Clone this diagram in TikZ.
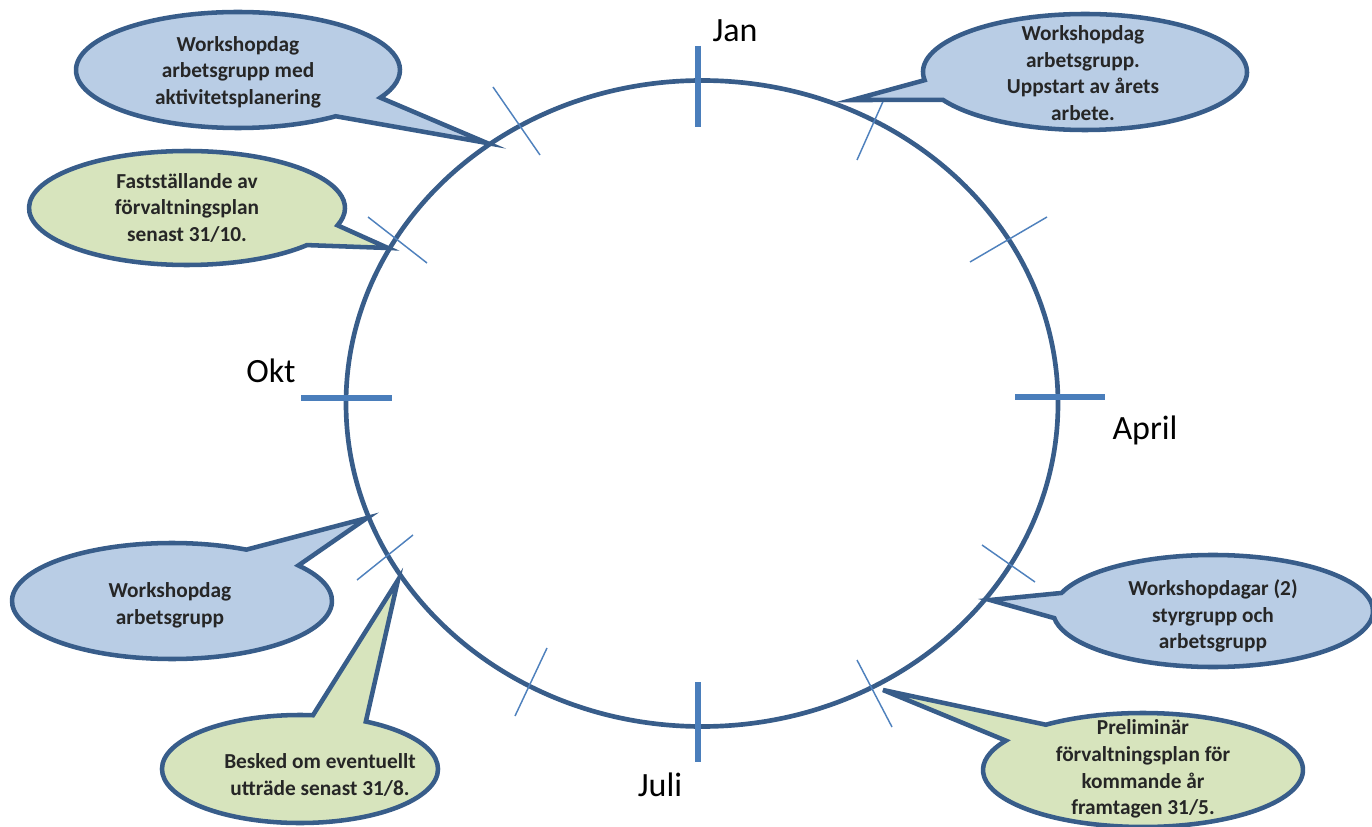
\documentclass[tikz,border=0pt]{standalone}
\usepackage{fontspec}
\setmainfont{Carlito}
\definecolor{cdark}{HTML}{385D8A}
\definecolor{ctick}{HTML}{4A7EBB}
\definecolor{cthin}{HTML}{4F81BD}
\definecolor{cblue}{HTML}{B9CDE5}
\definecolor{cgreen}{HTML}{D7E4BD}
\begin{document}
\begin{tikzpicture}[x=0.75pt,y=-0.75pt,
  callout/.style={draw=cdark,line width=3.4pt,line join=miter},
  bluecall/.style={callout,fill=cblue},
  greencall/.style={callout,fill=cgreen},
  calltext/.style={align=center,font=\fontsize{16}{20}\selectfont\bfseries,text=black!85,inner sep=0pt},
  month/.style={font=\fontsize{25.5}{30}\selectfont,text=black,inner sep=0pt},
  majortick/.style={draw=ctick,line width=5.2pt},
  minortick/.style={draw=cthin,line width=1.1pt},
  wheel/.style={draw=cdark,line width=3.5pt}]
\useasboundingbox (0,0) rectangle (1372,827);

% wheel
\coordinate (c) at (702,403.5);
\draw[wheel] (c) ellipse [x radius=356, y radius=323];

% major ticks
\draw[majortick] (698,46) -- (698,127);
\draw[majortick] (698,682) -- (698,762);
\draw[majortick] (301,398) -- (392,398);
\draw[majortick] (1015,397) -- (1105,397);

% minor ticks
\draw[minortick] (493,87) -- (540,155);
\draw[minortick] (368,217) -- (427,263);
\draw[minortick] (885,97) -- (857,160);
\draw[minortick] (970,262) -- (1047,217);
\draw[minortick] (982,545) -- (1035,582);
\draw[minortick] (857,660) -- (892,727);
\draw[minortick] (547,648) -- (515,716);
\draw[minortick] (357,580) -- (413,535);

% month labels
\node[month] (jan) at (735,31) {Jan};
\node[month] (juli) at (660,785) {Juli};
\node[month] (okt) at (271,371) {Okt};
\node[month] (april) at (1145,430) {April};

% tips
\coordinate (t1) at (487,143);
\coordinate (t2) at (852,100);
\coordinate (t3) at (388,248);
\coordinate (t4) at (367,518);
\coordinate (t5) at (398,580);
\coordinate (t6) at (990,600);
\coordinate (t7) at (883,690);

% callouts
\path[bluecall] (238,70) ++(52.9:162 and 58) arc[start angle=52.9, end angle=388.5, x radius=162, y radius=58] -- (t1) -- cycle;
\path[bluecall] (1085,72) ++(171.9:162 and 58) arc[start angle=171.9, end angle=511.2, x radius=162, y radius=58] -- (t2) -- cycle;
\path[greencall] (187,208) ++(40.6:158 and 57) arc[start angle=40.6, end angle=377.7, x radius=158, y radius=57] -- (t3) -- cycle;
\path[bluecall] (172,601) ++(-37.8:160 and 58) arc[start angle=-37.8, end angle=297.7, x radius=160, y radius=58] -- (t4) -- cycle;
\path[greencall] (300,769) ++(-61.5:138 and 54) arc[start angle=-61.5, end angle=275.4, x radius=138, y radius=54] -- (t5) -- cycle;
\path[bluecall] (1213,611) ++(198.8:160 and 56) arc[start angle=198.8, end angle=532.7, x radius=160, y radius=56] -- (t6) -- cycle;
\path[greencall] (1143,770) ++(232.6:160 and 57) arc[start angle=232.6, end angle=571, x radius=160, y radius=57] -- (t7) -- cycle;

% texts
\node[calltext] (w1) at (238,72) {Workshopdag\\arbetsgrupp med\\aktivitetsplanering};
\node[calltext] (w2) at (1083,73) {Workshopdag\\arbetsgrupp.\\Uppstart av årets\\arbete.};
\node[calltext] (f3) at (187,208) {Fastställande av\\förvaltningsplan\\senast 31/10.};
\node[calltext] (w4) at (170,605) {Workshopdag\\arbetsgrupp};
\node[calltext] (b5) at (320,775) {Besked om eventuellt\\utträde senast 31/8.};
\node[calltext] (w6) at (1213,616) {Workshopdagar (2)\\styrgrupp och\\arbetsgrupp};
\node[calltext] (p7) at (1143,769) {Preliminär\\förvaltningsplan för\\kommande år\\framtagen 31/5.};
\end{tikzpicture}
\end{document}
